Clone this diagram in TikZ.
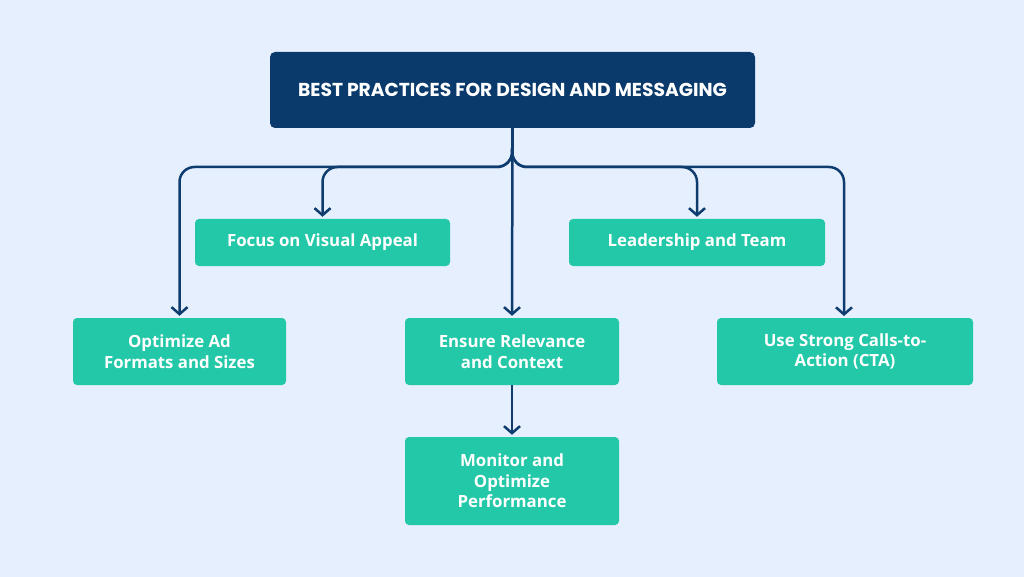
\documentclass[tikz,border=0pt]{standalone}
\usepackage{fontspec}
\setmainfont{Open Sans}
\newfontfamily\titlefont{Poppins}
\usetikzlibrary{arrows.meta}
\definecolor{bg}{HTML}{E5EFFD}
\definecolor{navy}{HTML}{0A3A6B}
\definecolor{teal}{HTML}{22C8A7}
\definecolor{lineblue}{HTML}{0E3C6E}
\tikzset{
  greenbox/.style={fill=teal, rounded corners=4pt, inner sep=0pt, text=white, font=\bfseries\fontsize{16.8}{20.5}\selectfont, align=center},
  titlebox/.style={fill=navy, rounded corners=5pt, inner sep=0pt, text=white, font=\titlefont\bfseries\fontsize{18.7}{22}\selectfont},
  conn/.style={draw=lineblue, line width=2.5pt, rounded corners=15pt, -{Straight Barb[length=7pt,width=16pt,line width=2.5pt]}, shorten >=2pt}
}
\begin{document}
\begin{tikzpicture}[x=1pt,y=-1pt]
\useasboundingbox (0,0) rectangle (1024,577);
\fill[bg] (0,0) rectangle (1024,577);
\node[titlebox, minimum width=485pt, minimum height=76pt] (title) at (512.5,90) {BEST PRACTICES FOR DESIGN AND MESSAGING};
\node[greenbox, minimum width=255pt, minimum height=47pt] (focus) at (322.5,242.5) {Focus on Visual Appeal};
\node[greenbox, minimum width=256pt, minimum height=47pt] (lead) at (697,242.5) {Leadership and Team};
\node[greenbox, minimum width=213pt, minimum height=67pt] (opt) at (179.5,351.5) {Optimize Ad\\Formats and Sizes};
\node[greenbox, minimum width=214pt, minimum height=67pt] (ens) at (512,351.5) {Ensure Relevance\\and Context};
\node[greenbox, minimum width=256pt, minimum height=67pt] (cta) at (845,351.5) {Use Strong Calls-to-\\Action (CTA)};
\node[greenbox, minimum width=214pt, minimum height=88pt] (mon) at (512,481) {Monitor and\\Optimize\\Performance};
\coordinate (hub) at (512,167);
\draw[conn] (title.south) -- (hub) -- (179.5,167) -- (opt.north);
\draw[conn] (title.south) -- (hub) -- (322.5,167) -- (focus.north);
\draw[conn] (title.south) -- (hub) -- (697,167) -- (lead.north);
\draw[conn] (title.south) -- (hub) -- (844,167) -- (844,318);
\draw[conn] (title.south) -- (ens.north);
\draw[conn] (ens.south) -- (mon.north);
\end{tikzpicture}
\end{document}
